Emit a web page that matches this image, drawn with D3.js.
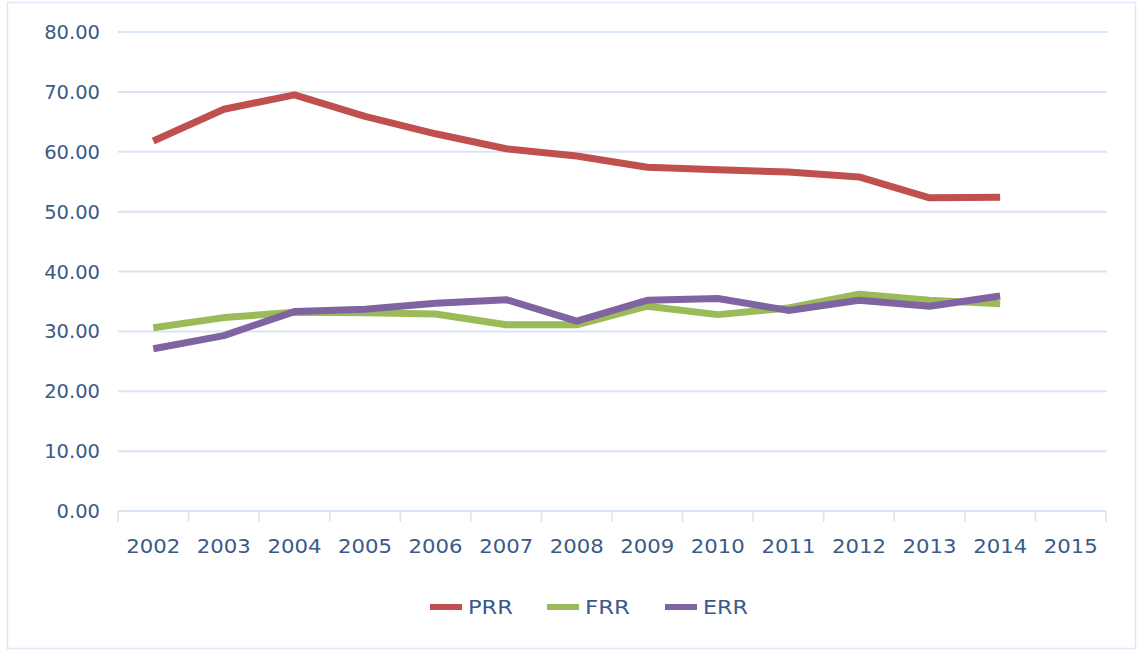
<!DOCTYPE html>
<html><head><meta charset="utf-8">
<script src="https://cdn.jsdelivr.net/npm/d3@7"></script>
<style>body{margin:0;background:#fff;}svg{display:block;}</style>
</head><body>
<svg id="c" width="1139" height="651"></svg>
<script>
const years = ["2002","2003","2004","2005","2006","2007","2008","2009","2010","2011","2012","2013","2014","2015"];
const prr = [61.8,67.1,69.5,65.9,63.0,60.5,59.3,57.4,57.0,56.6,55.8,52.3,52.4];
const frr = [30.6,32.3,33.2,33.1,32.9,31.1,31.1,34.2,32.8,33.9,36.2,35.2,34.6];
const err = [27.1,29.3,33.3,33.7,34.7,35.3,31.7,35.2,35.5,33.5,35.2,34.2,35.9];
const yTicks = [0,10,20,30,40,50,60,70,80];
const seriesNames = ["PRR","FRR","ERR"];
const colors = ["#C0504D","#9BBB59","#8064A2"];

const svg = d3.select("#c");
const font = "'DejaVu Sans', Verdana, sans-serif";
const txt = "#3b5a88";
const grid = "#d9e4f5";

svg.append("rect").attr("x",7.5).attr("y",2.5).attr("width",1128).attr("height",646)
  .attr("fill","#fff").attr("stroke","#dde7f5").attr("stroke-width",1.5);

const x = d3.scaleBand().domain(years).range([118,1106]);
const y = d3.scaleLinear().domain([0,80]).range([511,32]);

// gridlines
svg.append("g").selectAll("line").data(yTicks.filter(d=>d>0)).join("line")
  .attr("x1",118).attr("x2",1107).attr("y1",d=>y(d)).attr("y2",d=>y(d))
  .attr("stroke",grid).attr("stroke-width",2);

// y labels
svg.append("g").selectAll("text").data(yTicks).join("text")
  .attr("x",100).attr("y",d=>y(d)+7).attr("text-anchor","end")
  .attr("font-family",font).attr("font-size",19.5).attr("fill",txt)
  .text(d=>d3.format(".2f")(d));

// x axis
const xa = svg.append("g").attr("transform","translate(0,511)")
  .call(d3.axisBottom(x).tickSize(0).tickPadding(0));
xa.select(".domain").remove();
xa.selectAll("text").remove();
svg.append("line").attr("x1",118).attr("x2",1106).attr("y1",511).attr("y2",511)
  .attr("stroke",grid).attr("stroke-width",2);
const bounds = years.map(d=>x(d)).concat([x.range()[1]]);
svg.append("g").selectAll("line").data(bounds).join("line")
  .attr("x1",d=>d).attr("x2",d=>d).attr("y1",511).attr("y2",522)
  .attr("stroke",grid).attr("stroke-width",1.5);
svg.append("g").selectAll("text").data(years).join("text")
  .attr("x",d=>x(d)+x.bandwidth()/2).attr("y",553).attr("text-anchor","middle")
  .attr("font-family",font).attr("font-size",19.5).attr("fill",txt)
  .attr("textLength",54).attr("lengthAdjust","spacingAndGlyphs")
  .text(d=>d);

// lines
const line = d3.line().x((d,i)=>x(years[i])+x.bandwidth()/2).y(d=>y(d));
[prr,frr,err].forEach((s,i)=>{
  svg.append("path").datum(s).attr("d",line).attr("fill","none")
    .attr("stroke",colors[i]).attr("stroke-width",7).attr("stroke-linejoin","round");
});

// legend
const lx = [430,547,665];
seriesNames.forEach((n,i)=>{
  svg.append("line").attr("x1",lx[i]).attr("x2",lx[i]+32).attr("y1",607).attr("y2",607)
    .attr("stroke",colors[i]).attr("stroke-width",6);
  svg.append("text").attr("x",lx[i]+38).attr("y",614).attr("font-family",font)
    .attr("font-size",20).attr("fill",txt)
    .attr("textLength",45).attr("lengthAdjust","spacingAndGlyphs").text(n);
});
</script>
</body></html>
